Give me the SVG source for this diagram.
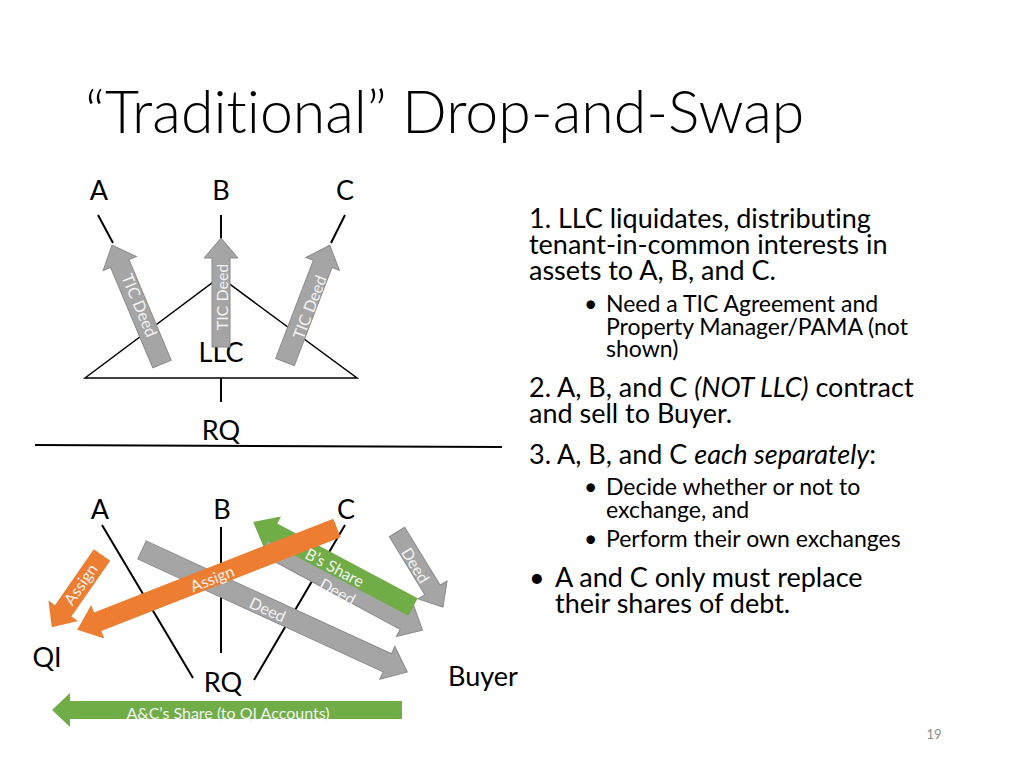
<svg xmlns="http://www.w3.org/2000/svg" width="1024" height="768" viewBox="0 0 1024 768">
<style>
text{font-family:Lato,"Open Sans","Liberation Sans",sans-serif;fill:#000;font-variant-ligatures:none}
.lbl{font-size:27px}
.ln{stroke:#000;stroke-width:2;fill:none}
.g{fill:#a5a5a5;stroke:#8a8a8a;stroke-width:1}
.o{fill:#ed7d31}
.gr{fill:#70ad47}
.at{font-size:16px;fill:#f2f2f2;text-anchor:middle;dominant-baseline:central}
.b1{font-size:27px}
.b2{font-size:23px}
</style>
<rect width="1024" height="768" fill="#fff"/>
<text x="85" y="133" style="font-size:59px;font-weight:300">“Traditional” Drop-and-Swap</text>
<g id="top">
<text class="lbl" x="99" y="200" text-anchor="middle">A</text>
<text class="lbl" x="221" y="200" text-anchor="middle">B</text>
<text class="lbl" x="345" y="200" text-anchor="middle">C</text>
<path class="ln" d="M98,215 L113,243 M221,215 L221,240 M345,215 L331,243 M221,378 L221,402"/>
<polygon class="ln" style="stroke-width:1.5" points="85,378 220,277 357,378"/>
<text class="lbl" x="221" y="362" text-anchor="middle">LLC</text>
<text class="lbl" x="221" y="440" text-anchor="middle">RQ</text>
</g>
<line x1="35" y1="445" x2="502" y2="447" stroke="#000" stroke-width="2"/>
<g id="bottom">
<text class="lbl" x="100" y="519" text-anchor="middle">A</text>
<text class="lbl" x="222" y="519" text-anchor="middle">B</text>
<text class="lbl" x="346" y="519" text-anchor="middle">C</text>
<path class="ln" d="M102,525 L193,678 M221,527 L221,653 M345,525 L254,680"/>
<text class="lbl" x="223" y="692" text-anchor="middle">RQ</text>
<text class="lbl" x="47" y="667" text-anchor="middle">QI</text>
<text class="lbl" x="483" y="686" text-anchor="middle">Buyer</text>
</g>
<g id="connectors">
<polygon class="g" transform="translate(162,364) rotate(-112.8)" points="0,-10 109,-10 109,-18 129,0 109,18 109,10 0,10"/>
<polygon class="g" transform="translate(221,347) rotate(-90)" points="0,-9 89,-9 89,-17 109,0 89,17 89,9 0,9"/>
<polygon class="g" transform="translate(285,362) rotate(-69)" points="0,-10 105,-10 105,-18 125,0 105,18 105,10 0,10"/>
<text class="at" transform="translate(140,305) rotate(67.2)">TIC Deed</text>
<text class="at" transform="translate(221,297) rotate(-90)">TIC Deed</text>
<text class="at" transform="translate(309,307) rotate(-69)">TIC Deed</text>

<polygon class="g" transform="translate(142,550) rotate(24.7)" points="0,-10 270,-10 270,-18 292,0 270,18 270,10 0,10"/>
<polygon class="g" transform="translate(265,545) rotate(28.4)" points="0,-10 159,-10 159,-18 179,0 159,18 159,10 0,10"/>
<polygon class="g" transform="translate(397,532) rotate(58.5)" points="0,-9 68,-9 68,-17 88,0 68,17 68,9 0,9"/>
<polygon class="gr" transform="translate(413,607) rotate(208)" points="0,-10 159,-10 159,-18 181,0 159,18 159,10 0,10"/>
<polygon class="o" transform="translate(337,528) rotate(158.6)" points="0,-10 257,-10 257,-18 279,0 257,18 257,10 0,10"/>
<polygon class="o" transform="translate(102,555) rotate(124.8)" points="0,-10 68,-10 68,-18 88,0 68,18 68,10 0,10"/>
<polygon class="gr" transform="translate(402,710) rotate(180)" points="0,-9 332,-9 332,-17 350,0 332,17 332,9 0,9"/>
<text class="at" transform="translate(268,609) rotate(24.7)">Deed</text>
<text class="at" transform="translate(338,591) rotate(28.4)">Deed</text>
<text class="at" transform="translate(416,565) rotate(58.5)">Deed</text>
<text class="at" transform="translate(335,567) rotate(28)">B’s Share</text>
<text class="at" transform="translate(212,578) rotate(-21.4)">Assign</text>
<text class="at" transform="translate(80,584) rotate(-55.2)">Assign</text>
<text class="at" transform="translate(228,712)">A&amp;C’s Share (to QI Accounts)</text>
</g>
<g id="text">
<text class="b1" x="529" y="228">1. LLC liquidates, distributing</text>
<text class="b1" x="529" y="254">tenant-in-common interests in</text>
<text class="b1" x="529" y="280">assets to A, B, and C.</text>
<text class="b2" x="584" y="312">•</text>
<text class="b2" x="606" y="312">Need a TIC Agreement and</text>
<text class="b2" x="606" y="335">Property Manager/PAMA (not</text>
<text class="b2" x="606" y="357">shown)</text>
<text class="b1" x="529" y="397">2. A, B, and C <tspan font-style="italic">(NOT LLC)</tspan> contract</text>
<text class="b1" x="529" y="423">and sell to Buyer.</text>
<text class="b1" x="529" y="464">3. A, B, and C <tspan font-style="italic">each separately</tspan>:</text>
<text class="b2" x="584" y="495">•</text>
<text class="b2" x="606" y="495">Decide whether or not to</text>
<text class="b2" x="606" y="518">exchange, and</text>
<text class="b2" x="584" y="547">•</text>
<text class="b2" x="606" y="547">Perform their own exchanges</text>
<text class="b1" x="529" y="587">•</text>
<text class="b1" x="555" y="587">A and C only must replace</text>
<text class="b1" x="555" y="613">their shares of debt.</text>
<text x="934" y="739" style="font-size:13px;fill:#8c8c8c" text-anchor="middle">19</text>
</g>
</svg>
